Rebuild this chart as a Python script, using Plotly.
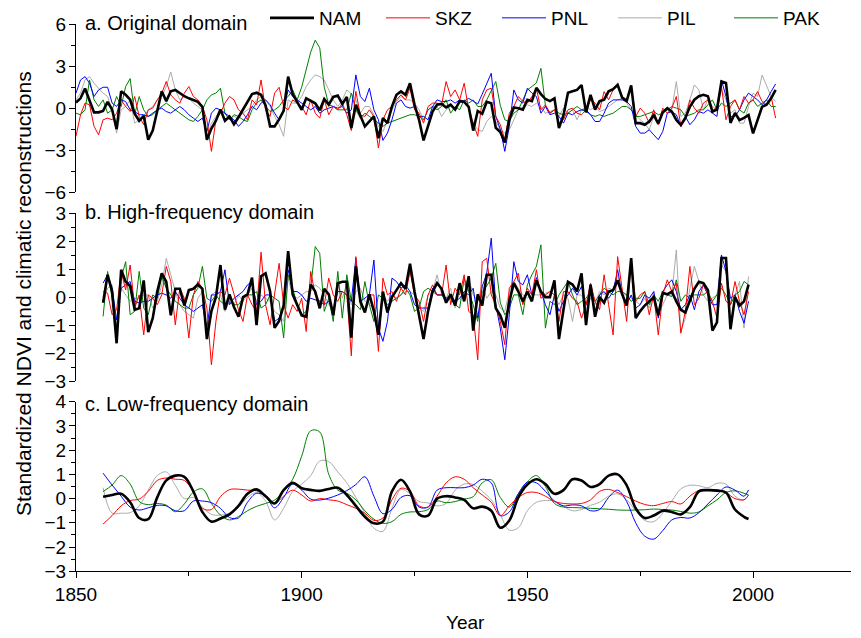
import plotly.graph_objects as go

# ---------------- data ----------------
YEARS_A = list(range(1850, 2006))
NAM_A = [0.4, 0.7, 1.4, 0.5, -0.3, -0.3, -0.2, 0.45, -0.1, -1.5,
         1.2, 0.95, 0.6, -0.4, -0.9, -0.55, -2.25, -1.6, -0.1, 1.2,
         0.5, 1.2, 1.3, 1.05, 0.85, 0.7, 0.6, 0.45, 0.1, -2.25,
         -1.45, -0.9, -0.1, -0.9, -0.6, -1.15, -0.65, -0.12, 0.45, 1.0,
         1.1, 0.95, 0.2, -1.3, -1.3, -0.8, -0.2, 2.25, 1.0, 0.4,
         -0.12, 0.7, 0.5, 0.35, -0.15, 0.65, 0.25, 0.8, 0.9, 0.3,
         0.8, -1.42, 0.25, -0.59, -1.3, -0.95, -0.59, -2.14, -0.71, -1.07,
         0.12, 0.95, 1.19, 0.95, 1.78, 0.24, -0.83, -2.3, -1.19, -0.24,
         0.24, 0.3, 0.05, 0.25, -0.1, 0.5, 0.45, 0.1, -1.6, -0.2,
         -0.4, 0.45, 0.35, -1.4, -1.7, -2.45, -0.8, 0.05, 0.0, -0.1,
         0.6, 0.5, 1.45, 1.0, 0.65, 0.5, 0.7, -1.42, -0.5, 1.1,
         1.2, 1.3, 1.65, -0.3, 0.95, -0.1, 0.5, 0.6, 1.2, 1.35,
         1.66, 0.75, 0.5, 1.63, -1.07, -1.07, -1.19, -0.95, -0.5, -1.1,
         -0.3, 0.0, -0.25, -0.85, -1.2, -0.7, 0.1, 0.6, 0.85, 0.95,
         0.85, -0.25, -0.1, 1.9, 1.8, -1.05, -0.35, -0.85, -0.7, -0.5,
         -1.8, -0.85, 0.1, 0.25, 0.7, 1.3]
SKZ_A = [-2.0, -0.47, 0.36, 0.24, -1.3, -1.9, -0.83, -0.71, -0.83, -0.36,
         0.59, 0.12, -0.24, 0.83, -0.59, -1.18, -0.12, 0.0, 0.59, 1.07,
         1.9, 0.95, 0.59, 0.36, 1.07, 1.54, 0.83, 0.59, 0.12, -0.83,
         -3.08, -0.83, -0.36, 0.36, 0.83, 0.59, -0.12, -0.36, -0.83, 0.59,
         0.24, 2.01, -0.12, -0.59, 1.07, 1.49, 0.12, -0.12, 0.59, 0.36,
         0.12, -0.47, 0.59, -0.36, -0.71, 0.59, -0.47, 0.12, -0.12, 0.36,
         -0.47, -1.6, 1.2, -0.5, -0.59, -0.12, -0.59, -2.84, -0.83, -0.12,
         0.12, 0.59, 0.95, 0.59, 1.42, -0.12, -0.36, -1.07, 0.12, 0.36,
         0.36, 0.24, 1.9, 0.83, 1.3, 0.59, 1.78, -0.12, -1.07, -2.01,
         0.59, 1.3, 1.42, -0.59, -1.18, -2.25, -0.36, 0.12, 0.83, 0.47,
         0.36, 0.83, 1.42, -0.12, 0.24, -0.36, -0.12, -1.07, -0.83, -0.12,
         0.0, -0.36, -0.47, -0.12, 0.59, 0.36, -0.12, 1.18, 0.59, 1.3,
         1.66, 0.83, 0.59, 1.54, -0.59, 0.0, -0.36, -1.07, -0.12, -1.18,
         0.0, -0.36, 0.0, 0.83, -1.3, -0.83, 0.59, 0.0, -0.36, 0.36,
         0.59, -0.24, 0.12, 1.54, -0.83, 0.12, 0.59, -0.12, 0.83, 0.36,
         0.59, 1.18, 0.47, 0.24, 0.83, -0.71]
PNL_A = [1.07, 2.01, 2.25, 1.78, 0.83, 1.3, 1.49, 1.49, 0.36, 0.12,
         0.59, 0.47, -0.12, -0.24, -0.47, -0.47, -0.59, -0.36, -0.12, 0.0,
         -0.24, -0.36, -0.12, 0.12, -0.12, -0.47, -0.71, -0.95, -0.71, -1.66,
         -0.36, 0.0, -0.12, -0.36, -0.59, -0.83, -1.3, -0.95, -0.47, 0.12,
         -0.12, 0.36, 0.59, 0.24, -0.36, -0.83, -0.12, 1.3, 0.83, 0.59,
         0.36, 0.12, -0.12, 0.12, -0.36, -0.12, 0.0, 0.12, 0.0, 0.12,
         -0.36, -0.12, 2.37, 0.83, 0.47, 1.42, -0.12, -0.83, -2.3, -1.78,
         -0.83, 0.36, 0.59, 0.12, 0.0, 0.12, -0.59, -0.59, -0.83, 0.12,
         0.59, 0.47, 0.47, 0.59, 0.36, 0.59, 0.5, 0.7, 0.5, 0.3,
         1.0, 1.78, 2.49, -0.59, -1.5, -3.08, -1.3, 1.3, 0.59, 0.36,
         1.42, 1.07, 0.83, -0.36, 0.12, -0.47, -0.36, -0.59, -1.07, -0.36,
         -0.47, -0.24, -0.12, -0.12, -0.47, -0.95, -0.95, -0.36, 0.36, 0.59,
         0.59, 0.59, 0.47, 0.12, -1.3, -1.78, -1.78, -1.54, -1.9, -2.25,
         -1.66, -0.36, -0.24, -0.47, -1.3, -0.59, -1.18, -0.83, -0.24, -0.36,
         -0.12, -0.36, -0.59, 2.01, 0.83, -0.59, -0.59, -0.12, 0.59, 1.07,
         0.83, 0.59, 0.24, 0.59, 1.18, 1.73]
PIL_A = [0.59, 1.07, 2.01, 2.25, 1.78, 1.42, 1.07, 0.83, -0.12, -1.78,
         -0.12, 0.12, 0.59, -1.07, -0.83, -0.59, -0.12, 0.12, 0.59, 0.83,
         1.54, 2.58, 1.3, 0.59, 0.83, 0.71, 0.36, 0.12, -0.12, -2.01,
         -1.07, -0.59, -0.12, -0.36, -0.83, -0.59, -0.71, -0.36, -0.12, 0.12,
         0.59, 0.83, 0.59, 0.12, -0.59, -1.18, -2.01, 0.59, 0.36, 0.36,
         0.83, 1.54, 2.01, 2.37, 2.25, 2.01, 1.3, 0.59, 0.12, 0.59,
         1.3, 1.02, 0.59, -0.36, 0.12, 0.12, -0.47, -1.3, -1.66, -0.83,
         -0.12, 0.47, 0.83, 0.59, 0.59, 0.36, -0.12, -0.83, -0.12, 0.12,
         0.12, -0.59, -0.12, 0.12, -0.12, 0.36, 0.47, 0.12, -1.07, -1.54,
         -1.66, -0.95, -0.59, -0.95, -1.54, -1.78, -1.54, -0.83, -0.12, 0.0,
         0.24, 0.12, 0.36, 0.12, -0.36, -0.24, -0.12, -0.59, 0.0, -0.36,
         -0.12, -0.83, -0.12, 0.12, -0.12, 0.12, -0.24, -0.12, 0.12, 0.36,
         0.59, 0.71, 0.36, -0.12, -0.47, -0.83, -1.07, -1.54, -0.59, -0.95,
         -0.36, -0.12, -0.12, 1.9, -0.59, -0.36, 0.59, 1.66, 1.3, -0.12,
         0.59, 0.12, -0.12, 1.3, 0.59, -0.36, -0.12, -1.07, -1.07, 0.12,
         1.07, 0.83, 2.37, 1.54, 0.83, 0.47]
PAK_A = [-0.36, -0.47, -0.12, 2.01, 0.59, 0.12, 0.59, -0.36, -0.12, 0.83,
         0.12, 1.54, 2.11, -0.47, 0.83, -0.12, -0.59, -0.47, -0.12, 0.12,
         0.36, 0.12, -0.12, -0.36, -0.59, -0.83, -0.95, -0.59, -0.12, 0.59,
         0.95, 1.07, 1.42, -0.36, -0.83, -0.47, -0.59, -0.83, -0.95, -0.12,
         0.36, 0.59, 0.12, -0.24, -0.12, 0.12, 0.59, 0.83, 1.3, 0.59,
         1.5, 2.8, 4.0, 4.85, 4.3, 1.5, 0.24, 0.12, -0.12, -0.12,
         -0.12, 1.07, -0.12, -0.71, -0.36, -0.59, -0.83, -1.07, -1.3, -1.07,
         -0.95, -0.83, -0.71, -0.59, -0.47, -0.47, -0.59, -0.83, -0.12, 0.12,
         -0.12, 0.12, 0.59, -0.36, 0.12, -0.12, 0.59, 0.36, 0.59, 0.12,
         0.12, 0.59, 1.2, 1.9, 0.2, -0.83, -0.95, -0.36, -0.12, 0.59,
         1.3, 1.54, 1.8, 2.84, 0.2, -0.36, -0.12, -0.36, -0.47, -0.36,
         -0.12, 0.12, -0.12, -0.24, -0.47, -0.59, -0.47, -0.59, -0.47, -0.36,
         -0.12, 0.12, 0.12, -0.12, -0.59, -0.59, -0.47, -0.36, -0.24, -0.47,
         -0.36, -0.12, 0.12, 0.0, -0.12, -0.59, -0.47, -0.36, -0.12, -0.12,
         0.24, 0.59, -0.12, 0.36, 0.12, 0.36, 0.59, -0.12, -0.36, 0.36,
         0.59, 0.12, 0.36, 0.59, 0.12, 0.12]

YEARS_B = list(range(1856, 2000))
NAM_B = [-0.2, 0.8, 0.2, -1.65,
         0.98, 0.55, 0.4, -0.45, -0.4, 0.6, -1.25, -0.75, 0.2, 0.85,
         0.55, -0.65, 0.3, 0.3, -0.3, 0.25, 0.3, 0.45, 0.3, -1.5,
         -0.5, 0.0, 1.15, -0.45, 0.1, -0.35, -0.7, 0.0, 0.1, 0.7,
         -1.0, 0.75, 0.85, 0.2, -1.1, -0.85, -0.3, 1.65, 0.1, -0.3,
         -0.65, -0.7, 0.45, 0.2, -0.4, 0.3, 0.1, -0.65, 0.5, 0.55,
         0.55, -1.45, 1.1, -0.15, -0.55, 0.1, -0.5, -1.35, 0.2, -0.55,
         0.0, 0.25, 0.5, 0.3, 1.2, 0.2, -0.7, -1.5, -0.5, 0.2,
         0.5, 0.3, -0.2, 0.1, -0.3, 0.5, -0.15, 0.75, -1.2, 0.1,
         -0.3, 0.8, 0.8, -0.4, -0.65, -1.1, -0.15, 0.5, 0.2, -0.15,
         0.2, -0.15, 0.6, 0.2, 0.0, 0.0, 0.6, -1.5, -0.45, 0.55,
         0.45, 0.2, 0.85, -1.0, 0.45, -0.7, 0.0, -0.2, 0.2, 0.25,
         0.6, 0.1, -0.3, 1.4, -0.75, -0.5, -0.3, -0.15, 0.0, -0.65,
         0.15, 0.1, 0.2, -0.15, -0.45, -0.55, -0.15, 0.3, 0.55, 0.5,
         0.25, -1.2, -0.9, 1.4, 1.4, -1.15, 0.0, -0.3, -0.15, 0.45]
SKZ_B = [0.2, 0.14, -0.63, -0.45,
         0.92, 0.26, 1.15, -0.39, 0.08, -1.35, 0.08, -0.04, -0.27, 0.08,
         1.1, 0.56, -0.99, 0.32, -0.04, -1.46, 0.08, 0.56, 0.32, -0.39,
         -2.42, -0.87, 0.2, 0.08, 0.68, 0.08, -0.45, -0.87, 0.08, -0.27,
         -0.51, 1.61, -0.27, -0.99, 0.08, 1.21, -0.27, -0.75, -0.27, -0.51,
         -0.04, -1.23, 0.92, 0.08, -0.15, -0.27, 0.68, 0.08, -0.15, 0.2,
         0.08, -2.1, 1.45, -0.27, -0.51, 0.08, 0.08, -1.94, 0.68, 0.08,
         0.2, -0.15, 0.32, 0.08, 0.92, 0.08, -0.15, -0.87, 0.08, 0.44,
         0.08, 0.08, 1.15, -0.27, 0.32, 0.08, 0.8, -0.51, -0.63, -2.24,
         1.27, 1.39, 0.08, -0.27, -0.87, -1.7, 0.32, 0.56, 0.86, -0.27,
         0.32, 0.08, 0.98, -0.04, 0.08, 0.2, 0.08, -0.87, 0.2, 0.2,
         -0.04, -0.15, -0.75, -0.27, 0.5, -0.15, -0.45, 0.8, -0.27, -1.35,
         1.45, 0.2, -0.87, 1.27, -0.15, 0.08, 0.2, -0.63, 0.08, -1.35,
         0.08, 0.62, 0.2, 0.5, -1.29, -0.51, 1.1, -0.27, -0.04, 0.44,
         0.08, -0.15, -0.75, 0.5, -0.15, -0.27, 0.56, -0.15, -0.63, 0.2]
PNL_B = [0.5, 0.8, 0.32, -0.81,
         0.32, 0.44, 0.56, -0.15, -0.21, -0.15, -0.15, -0.04, 0.08, 0.14,
         0.08, -0.04, 0.2, -0.04, -0.27, -0.39, -0.51, -0.39, -0.27, -1.11,
         0.08, 0.08, 0.2, 0.98, -0.27, -0.04, 0.08, 0.2, 0.44, 0.56,
         -0.27, -0.15, 0.08, 0.08, -0.87, -0.75, -0.27, 0.98, 0.2, 0.2,
         0.08, -0.15, -0.04, -0.1, -0.15, -0.27, -0.15, -0.51, 0.2, 0.2,
         0.08, -0.15, 1.39, -0.15, -0.04, 0.08, 1.33, -1.11, -1.58, -0.87,
         0.68, 0.56, 0.32, 0.44, 0.2, -0.27, -0.39, -0.39, -0.39, 0.32,
         0.08, 0.08, -0.04, 0.08, -0.15, -0.04, 0.2, 0.08, 0.32, -0.75,
         0.38, 0.86, 2.11, -0.27, -1.11, -2.24, -0.63, 1.27, 0.56, 0.44,
         0.8, 0.08, 0.7, 0.2, -0.27, -0.63, 0.08, -0.51, -0.15, 0.08,
         0.32, 0.08, 0.38, -0.27, 0.2, -0.51, 0.08, 0.2, -0.04, 0.2,
         0.98, 0.08, -0.27, 0.08, -0.39, -0.27, 0.08, -0.04, 0.2, -0.75,
         0.2, 0.44, 0.62, 0.2, -0.45, -0.27, 0.08, -0.45, 0.2, 0.44,
         0.08, -0.27, -0.27, 1.51, 0.92, -0.04, 0.08, -0.51, -0.93, -0.15]
PIL_B = [-0.15, 0.32, 0.44, -1.29,
         0.32, 0.08, -0.15, -0.04, -0.04, 0.08, 0.08, -0.39, -0.15, 0.44,
         1.39, 0.8, 0.2, -0.27, -0.51, -0.63, -0.75, -0.04, 0.2, -1.4,
         0.08, 0.2, 0.08, -0.51, -0.15, -0.27, 0.08, -0.15, 0.08, 0.32,
         -0.15, 0.08, -0.04, -0.15, -0.51, -0.63, -0.87, 0.68, 0.08, -0.04,
         0.08, 0.2, 0.2, 0.44, 0.32, 0.08, -0.27, -0.51, 0.56, -0.04,
         0.44, -0.27, 0.2, 0.32, -0.15, -0.27, -0.39, -0.99, 0.08, -0.15,
         0.08, -0.04, 0.08, 0.2, 0.2, 0.08, -0.39, -0.51, 0.08, 0.2,
         0.8, 0.08, -0.04, 0.32, -0.39, 0.2, 0.44, 0.68, 0.08, -0.15,
         0.44, -0.04, 0.2, 0.08, -0.39, -0.51, 0.2, 0.56, 0.32, 0.08,
         -0.04, 0.08, 0.08, 0.08, 0.14, 0.2, 0.08, -0.27, 0.08, -0.04,
         -0.87, 0.08, 0.08, -0.27, -0.04, -0.27, 0.2, 0.08, 0.32, 0.26,
         0.8, 0.08, 0.08, -0.04, -0.15, -0.27, -0.04, -0.39, 0.2, -0.63,
         -0.27, 0.08, 0.08, 1.69, -1.23, -0.75, 0.32, 1.1, 0.56, 0.08,
         -0.15, -0.04, 0.08, 1.15, 0.92, -0.27, 0.08, 0.56, -1.11, 0.74]
PAK_B = [-0.69, 0.92, -0.04, -1.11,
         0.68, 1.27, -0.63, -0.51, 0.92, -0.39, -0.63, 0.08, -0.04, 0.74,
         0.32, 0.08, -0.15, -0.27, -0.39, -0.39, 0.08, 0.32, 1.1, -0.04,
         -0.15, 0.08, -0.15, -0.27, -0.04, -0.27, -0.27, -0.04, 0.08, 0.08,
         0.2, -0.39, -0.27, 0.08, -0.04, -0.15, -1.46, 0.8, 0.32, -0.27,
         -0.63, -0.51, 0.32, 1.81, 1.57, -0.51, -0.04, -0.87, 0.92, -0.75,
         0.8, -0.15, -0.27, -0.45, 0.56, -0.27, -0.87, 0.08, -0.04, -0.27,
         -0.15, -0.04, 0.08, 0.32, 0.08, -0.51, -0.39, 0.2, 0.32, 0.2,
         0.08, 0.08, -0.15, -0.04, -0.27, -0.39, 0.68, 0.2, -0.27, -0.87,
         0.2, 0.4, 0.68, 1.21, -0.2, -0.63, -0.39, 0.08, 0.08, -0.63,
         0.44, 0.8, 1.1, 1.87, -1.11, -0.15, -0.27, 0.08, 0.32, 0.56,
         0.08, -0.27, -0.15, -0.04, 0.2, -0.15, 0.08, 0.32, 0.2, 0.08,
         0.2, 0.2, 0.08, -0.15, -0.04, -0.04, 0.2, -0.27, 0.08, -0.15,
         0.2, 0.08, 0.02, 0.62, -0.15, 0.08, -0.04, 0.08, 0.08, 0.08,
         0.2, -0.15, 0.08, 0.32, 0.08, -0.27, 0.08, 0.2, 0.56, 0.44]

YEARS_C = list(range(1856, 1999, 2)) + [1999]
NAM_C = [0.08, 0.15, 0.2, -0.15, -0.8, -0.85, 0.05, 0.75, 0.95, 0.9,
         0.3, -0.55, -0.95, -0.82, -0.65, -0.3, 0.2, 0.38, 0.1, -0.2,
         0.35, 0.65, 0.43, 0.36, 0.32, 0.4, 0.45, 0.15, -0.3, -0.75,
         -1.02, -0.95, 0.3, 0.78, 0.3, -0.65, -0.7, 0.0, 0.1, 0.05,
         -0.05, -0.4, -0.33, -0.5, -1.2, -0.9, 0.05, 0.58, 0.8, 0.6,
         0.2, 0.35, 0.8, 0.75, 0.48, 0.6, 0.95, 1.0, 0.55, -0.4,
         -0.8, -0.7, -0.5, -0.55, -0.65, -0.35, 0.3, 0.35, 0.33, 0.25,
         -0.45, -0.75, -0.84]
SKZ_C = [-1.05, -0.7, -0.3, -0.08, -0.02, 0.3, 0.75, 0.85, 0.8, 0.75,
         0.3, -0.4, -0.45, 0.08, 0.37, 0.39, 0.35, 0.32, 0.15, -0.2,
         0.1, 0.35, 0.15, -0.1, 0.0, -0.05, -0.1, -0.25, -0.4, -0.6,
         -0.9, -0.8, -0.05, 0.43, 0.3, -0.3, -0.35, 0.1, 0.65, 0.9,
         0.8, 0.45, 0.15, -0.15, -0.7, -0.3, 0.05, 0.25, 0.25, 0.1,
         -0.12, -0.2, -0.22, -0.2, -0.05, 0.3, 0.38, 0.25, 0.08, -0.1,
         -0.24, -0.29, -0.2, -0.12, -0.22, 0.1, 0.34, 0.36, 0.36, 0.25,
         0.0, -0.05, 0.15]
PNL_C = [1.05, 0.56, 0.1, -0.35, -0.47, -0.38, -0.28, -0.3, -0.5, -0.5,
         -0.1, -0.1, -0.17, -0.4, -0.78, -0.8, -0.15, 0.22, 0.1, -0.38,
         0.05, 0.6, 0.35, -0.02, -0.06, 0.02, 0.15, 0.33, 0.58, 0.9,
         0.1, -0.62, -0.45, 0.05, 0.12, -0.35, -0.35, 0.35, 0.45, 0.45,
         0.45, 0.56, 0.8, 0.65, -0.7, -0.55, 0.2, 0.68, 0.65, 0.3,
         -0.1, -0.3, -0.26, -0.3, -0.5, -0.45, 0.05, 0.35, -0.12, -1.0,
         -1.55, -1.67, -1.32, -0.88, -0.78, -0.8, -0.58, -0.22, 0.15, 0.48,
         0.35, 0.1, 0.36]
PIL_C = [0.45, -0.6, -0.6, -0.58, -0.3, 0.35, 0.95, 1.1, 0.55, 0.0,
         0.05, -0.35, -0.65, -0.68, -0.6, -0.35, 0.05, 0.25, -0.1, -0.88,
         -0.4, 0.3, 0.6, 0.95, 1.55, 1.53, 1.1, 0.65, 0.05, -0.6,
         -1.22, -1.35, -0.4, 0.38, 0.2, -0.12, -0.18, -0.3, -0.2, 0.35,
         0.6, 0.58, 0.3, -0.05, -0.67, -1.3, -1.2, -0.5, -0.15, -0.08,
         -0.1, -0.32, -0.5, -0.45, -0.28, -0.15, 0.1, 0.2, -0.05, -0.5,
         -0.9, -0.95, -0.6, -0.1, 0.4, 0.55, 0.53, 0.45, 0.63, 0.6,
         0.1, -0.05, 0.15]
PAK_C = [0.29, 0.56, 0.95, 0.6, -0.12, -0.25, -0.2, -0.27, -0.54, -0.22,
         0.27, 0.4, -0.2, -0.68, -0.88, -0.74, -0.5, -0.32, -0.2, -0.06,
         0.3, 0.8, 1.75, 2.8, 2.75, 1.0, 0.35, 0.22, -0.05, -0.5,
         -0.85, -1.02, -0.95, -0.65, -0.55, -0.54, -0.45, -0.1, -0.17, -0.12,
         -0.02, 0.08, 0.65, 0.78, 0.05, -0.35, 0.2, 0.7, 0.95, 0.5,
         -0.2, -0.35, -0.37, -0.38, -0.4, -0.42, -0.44, -0.47, -0.48, -0.47,
         -0.46, -0.43, -0.45, -0.47, -0.53, -0.6, -0.55, -0.3, -0.05, 0.25,
         0.32, 0.22, 0.15]

SERIES = ["NAM", "SKZ", "PNL", "PIL", "PAK"]
PANEL_TITLES = ["a. Original domain", "b. High-frequency domain", "c. Low-frequency domain"]
Y_TITLE = "Standardized NDVI and climatic reconstructions"
X_TITLE = "Year"

panels = [
    (YEARS_A, {"NAM": NAM_A, "SKZ": SKZ_A, "PNL": PNL_A, "PIL": PIL_A, "PAK": PAK_A}),
    (YEARS_B, {"NAM": NAM_B, "SKZ": SKZ_B, "PNL": PNL_B, "PIL": PIL_B, "PAK": PAK_B}),
    (YEARS_C, {"NAM": NAM_C, "SKZ": SKZ_C, "PNL": PNL_C, "PIL": PIL_C, "PAK": PAK_C}),
]
for yrs, d in panels:
    for k, v in d.items():
        assert len(v) == len(yrs), (k, len(v), len(yrs))

# ---------------- style ----------------
COLORS = {"NAM": "#000000", "SKZ": "#ff0000", "PNL": "#0000ff", "PIL": "#ababab", "PAK": "#008000"}
WIDTHS = {"NAM": 2.6, "SKZ": 1.0, "PNL": 1.0, "PIL": 1.0, "PAK": 1.0}
DRAW_ORDER = ["PIL", "PAK", "PNL", "SKZ", "NAM"]
FONT = "Liberation Sans, Arial, sans-serif"

W, H = 861, 638
ML, MR, MT, MB = 76, 10, 0, 66
PW, PH = W - ML - MR, H - MT - MB


def py(p):  # pixel row -> paper y
    return min(1.0, max(0.0, 1 - (p - MT) / PH))


def px(p):  # pixel column -> paper x
    return (p - ML) / PW


fig = go.Figure()
axis_ids = ["", "2", "3"]
for i, (yrs, d) in enumerate(panels):
    for name in DRAW_ORDER:
        fig.add_trace(go.Scatter(
            x=yrs, y=d[name], mode="lines", name=name,
            line=dict(color=COLORS[name], width=WIDTHS[name],
                      shape="spline" if i == 2 else "linear", smoothing=1.0 if i == 2 else None),
            xaxis="x" + axis_ids[i], yaxis="y" + axis_ids[i],
            showlegend=(i == 0), legendrank=SERIES.index(name) + 1,
            hoverinfo="skip",
        ))

XR = [1850, 2021.7]
tickfont = dict(family=FONT, size=19, color="black")
ydomains = [[py(192.3), py(24.0)], [py(381.0), py(213.3)], [py(571.3), py(401.7)]]
yranges = [[-6, 6], [-3, 3], [-3, 4]]
ydticks = [3, 1, 1]

layout = dict(
    width=W, height=H, margin=dict(l=ML, r=MR, t=MT, b=MB, autoexpand=False),
    paper_bgcolor="white", plot_bgcolor="white",
    font=dict(family=FONT, size=19, color="black"),
    showlegend=True,
    legend=dict(orientation="h", x=px(265), xanchor="left", y=py(18), yanchor="middle",
                font=dict(family=FONT, size=19, color="black"), bgcolor="rgba(0,0,0,0)",
                itemwidth=44, entrywidth=57, entrywidthmode="pixels", traceorder="normal"),
)
for i in range(3):
    sx = "xaxis" + axis_ids[i]
    sy = "yaxis" + axis_ids[i]
    layout[sx] = dict(domain=[0, 1], range=XR, anchor="y" + axis_ids[i],
                      showgrid=False, zeroline=False, visible=(i == 2),
                      showline=True, linecolor="black", linewidth=1,
                      ticks="outside", ticklen=6, tickwidth=1, tickcolor="black",
                      tickmode="linear", tick0=1850, dtick=50,
                      minor=dict(ticks="outside", ticklen=4, tickwidth=1, tickcolor="black", dtick=25, tick0=1850),
                      tickfont=tickfont)
    if i != 2:
        layout[sx]["matches"] = "x3"
    layout[sy] = dict(domain=ydomains[i], range=yranges[i], anchor="x" + axis_ids[i],
                      showgrid=False, zeroline=False,
                      showline=True, linecolor="black", linewidth=1,
                      ticks="outside", ticklen=6, tickwidth=1, tickcolor="black",
                      tickmode="linear", tick0=0, dtick=ydticks[i],
                      minor=dict(ticks="outside", ticklen=4, tickwidth=1, tickcolor="black",
                                 dtick=ydticks[i] / 2, tick0=0),
                      ticklabelstandoff=-1,
                      tickfont=tickfont)
fig.update_layout(**layout)

ann = []
for t, yc in zip(PANEL_TITLES, [23.5, 212.5, 403.5]):
    ann.append(dict(text=t, xref="paper", yref="paper", x=px(83), y=py(yc),
                    xanchor="left", yanchor="middle", showarrow=False,
                    font=dict(family=FONT, size=20, color="black")))
ann.append(dict(text=Y_TITLE, xref="paper", yref="paper", x=px(23), y=py(294),
                xanchor="center", yanchor="middle", textangle=-90, showarrow=False,
                font=dict(family=FONT, size=21, color="black")))
ann.append(dict(text=X_TITLE, xref="paper", yref="paper", x=px(466), y=1 - (622 - MT) / PH,
                xanchor="center", yanchor="middle", showarrow=False,
                font=dict(family=FONT, size=19, color="black")))
fig.update_layout(annotations=ann)

fig.write_html("out.html",
               config={"displayModeBar": False, "staticPlot": True},
               post_script="document.body.style.margin='0px';document.body.style.padding='0px';")
